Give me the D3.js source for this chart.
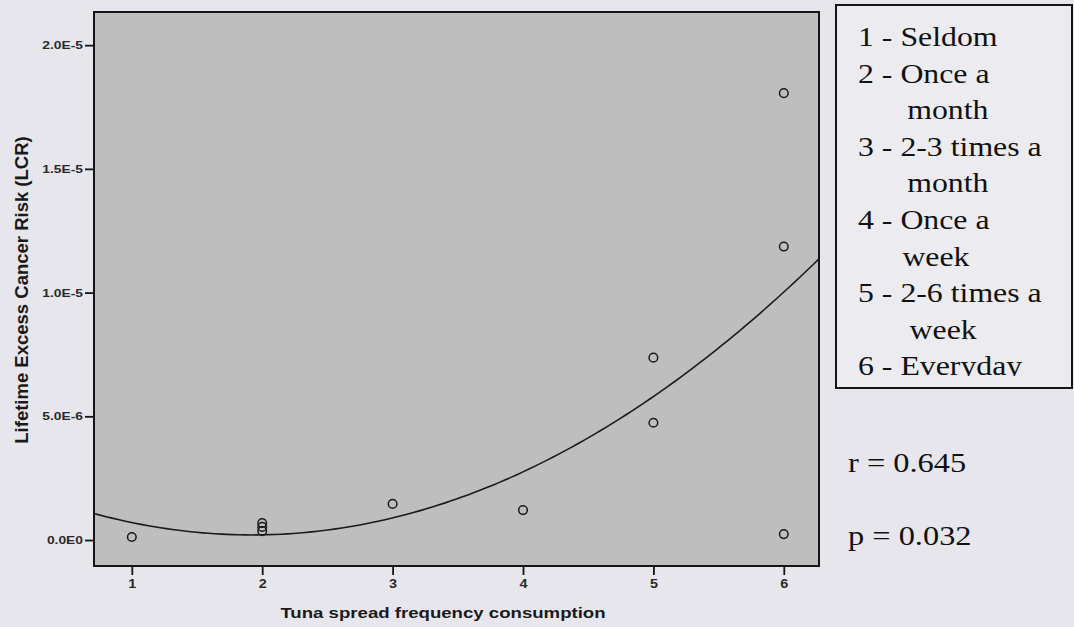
<!DOCTYPE html>
<html>
<head>
<meta charset="utf-8">
<script src="https://cdn.jsdelivr.net/npm/d3@7"></script>
<style>
  body { margin: 0; background: #e6e6ec; }
  svg { display: block; }
  .serif { font-family: "Liberation Serif", "Times New Roman", Times, serif; }
  .sans { font-family: "Liberation Sans", Arial, Helvetica, sans-serif; }
</style>
</head>
<body>
<div id="chart"></div>
<script>
// Set variables
const FRAME_WIDTH = 1074;
const FRAME_HEIGHT = 627;
const PLOT = {left: 94, right: 819, top: 12, bottom: 566};
const STRETCH = 1.2; // the source picture is stretched sideways

// Data
const freqCodes = [1, 2, 3, 4, 5, 6];
const pointFreq = [1, 2, 2, 2, 3, 4, 5, 5, 6, 6, 6];
const pointLCR = [1.2e-7, 6.9e-7, 5.3e-7, 3.6e-7, 1.46e-6, 1.21e-6,
                  7.37e-6, 4.74e-6, 1.806e-5, 1.186e-5, 2.4e-7];
const yTicks = [0, 5e-6, 1e-5, 1.5e-5, 2e-5];
const yTickLabels = ["0.0E0", "5.0E-6", "1.0E-5", "1.5E-5", "2.0E-5"];
const legendLines = ["1 - Seldom", "2 - Once a", "month", "3 - 2-3 times a", "month",
                     "4 - Once a", "week", "5 - 2-6 times a", "week", "6 - Everyday"];
const legendIndent = [0, 0, 41, 0, 41, 0, 37, 0, 43, 0];
const statLines = ["r = 0.645", "p = 0.032"];

const X_TITLE = "Tuna spread frequency consumption";
const Y_TITLE = "Lifetime Excess Cancer Risk (LCR)";

const svg = d3.select("#chart")
              .append("svg")
                .attr("width", FRAME_WIDTH)
                .attr("height", FRAME_HEIGHT);

svg.append("rect")
    .attr("width", FRAME_WIDTH)
    .attr("height", FRAME_HEIGHT)
    .attr("fill", "#e6e6ec");

const X_SCALE = d3.scaleLinear()
                  .domain([0.71, 6.27])
                  .range([PLOT.left, PLOT.right]);

const Y_SCALE = d3.scaleLinear()
                  .domain([-1.05e-6, 21.34e-6])
                  .range([PLOT.bottom, PLOT.top]);

// widen text like the stretched source
function stretch(sel, k) {
  sel.each(function() {
    const w = this.getComputedTextLength();
    d3.select(this).attr("textLength", w * k).attr("lengthAdjust", "spacingAndGlyphs");
  });
}

// plot background
svg.append("rect")
    .attr("x", PLOT.left)
    .attr("y", PLOT.top)
    .attr("width", PLOT.right - PLOT.left)
    .attr("height", PLOT.bottom - PLOT.top)
    .attr("fill", "#bebebe");

// quadratic least squares fit (the SPSS fit line)
function quadFit(xs, ys) {
  const n = xs.length;
  let s = [0, 0, 0, 0, 0], t = [0, 0, 0];
  for (let i = 0; i < n; i++) {
    for (let k = 0; k < 5; k++) s[k] += Math.pow(xs[i], k);
    for (let k = 0; k < 3; k++) t[k] += ys[i] * Math.pow(xs[i], k);
  }
  const M = [[s[0], s[1], s[2], t[0]], [s[1], s[2], s[3], t[1]], [s[2], s[3], s[4], t[2]]];
  for (let c = 0; c < 3; c++) {
    for (let r = c + 1; r < 3; r++) {
      const f = M[r][c] / M[c][c];
      for (let j = c; j < 4; j++) M[r][j] -= f * M[c][j];
    }
  }
  const b = [0, 0, 0];
  for (let r = 2; r >= 0; r--) {
    let v = M[r][3];
    for (let j = r + 1; j < 3; j++) v -= M[r][j] * b[j];
    b[r] = v / M[r][r];
  }
  return b;
}

const coef = quadFit(pointFreq, pointLCR);
const xDom = X_SCALE.domain();
const curveX = d3.range(xDom[0], xDom[1] + 0.001, (xDom[1] - xDom[0]) / 120);

svg.append("path")
    .datum(curveX)
    .attr("fill", "none")
    .attr("stroke", "#1a1a1a")
    .attr("stroke-width", 1.6)
    .attr("d", d3.line()
        .x((d) => X_SCALE(d))
        .y((d) => Y_SCALE(coef[0] + coef[1] * d + coef[2] * d * d)));

// Add points
svg.selectAll(".point")
    .data(pointFreq)
    .enter()
    .append("circle")
      .attr("class", "point")
      .attr("cx", (d) => X_SCALE(d))
      .attr("cy", (d, i) => Y_SCALE(pointLCR[i]))
      .attr("r", 4.3)
      .attr("fill", "none")
      .attr("stroke", "#1a1a1a")
      .attr("stroke-width", 1.5);

// frame
svg.append("rect")
    .attr("x", PLOT.left)
    .attr("y", PLOT.top)
    .attr("width", PLOT.right - PLOT.left)
    .attr("height", PLOT.bottom - PLOT.top)
    .attr("fill", "none")
    .attr("stroke", "#151515")
    .attr("stroke-width", 2);

// Add a y-axis
const yAxis = svg.append("g")
    .attr("transform", "translate(" + PLOT.left + ",0)")
    .call(d3.axisLeft(Y_SCALE)
            .tickValues(yTicks)
            .tickFormat((d, i) => yTickLabels[i])
            .tickSize(9)
            .tickPadding(2));
yAxis.select(".domain").remove();
yAxis.selectAll("line").attr("stroke", "#151515").attr("stroke-width", 1.8);
yAxis.selectAll("text")
    .attr("class", "sans")
    .attr("font-size", "11.5px")
    .attr("font-weight", "bold")
    .attr("fill", "#2a2a2a")
    .call(stretch, STRETCH);

// Add an x-axis
const xAxis = svg.append("g")
    .attr("transform", "translate(0," + PLOT.bottom + ")")
    .call(d3.axisBottom(X_SCALE)
            .tickValues(freqCodes)
            .tickFormat(d3.format("d"))
            .tickSize(9)
            .tickPadding(4));
xAxis.select(".domain").remove();
xAxis.selectAll("line").attr("stroke", "#151515").attr("stroke-width", 1.8);
xAxis.selectAll("text")
    .attr("class", "sans")
    .attr("font-size", "12px")
    .attr("font-weight", "bold")
    .attr("fill", "#2a2a2a")
    .call(stretch, STRETCH);

// axis titles
svg.append("text")
    .attr("class", "sans")
    .attr("x", 443)
    .attr("y", 618)
    .attr("text-anchor", "middle")
    .attr("font-size", "15.5px")
    .attr("font-weight", "bold")
    .attr("fill", "#1a1a1a")
    .text(X_TITLE)
    .call(stretch, STRETCH);

svg.append("text")
    .attr("class", "sans")
    .attr("transform", "translate(28,290) rotate(-90)")
    .attr("text-anchor", "middle")
    .attr("font-size", "18.5px")
    .attr("font-weight", "bold")
    .attr("fill", "#1a1a1a")
    .text(Y_TITLE);

// legend box
svg.append("rect")
    .attr("x", 836)
    .attr("y", 5)
    .attr("width", 236)
    .attr("height", 383)
    .attr("fill", "#ebebf0")
    .attr("stroke", "#151515")
    .attr("stroke-width", 2);

svg.append("clipPath")
    .attr("id", "legend-clip")
  .append("rect")
    .attr("x", 836)
    .attr("y", 5)
    .attr("width", 236)
    .attr("height", 371);

const legend = svg.append("g")
    .attr("clip-path", "url(#legend-clip)")
  .append("g")
    .attr("transform", "translate(858,0) scale(" + STRETCH + ",1)");

legend.selectAll("text")
    .data(legendLines)
    .enter()
    .append("text")
      .attr("class", "serif")
      .attr("x", (d, i) => legendIndent[i])
      .attr("y", (d, i) => 46 + i * 36.6)
      .attr("font-size", "26.5px")
      .attr("fill", "#111")
      .text((d) => d);

// r and p
svg.selectAll(".stat")
    .data(statLines)
    .enter()
    .append("text")
      .attr("class", "serif")
      .attr("transform", (d, i) => "translate(848," + (472 + i * 73) + ") scale(" + STRETCH + ",1)")
      .attr("font-size", "27px")
      .attr("fill", "#111")
      .text((d) => d);
</script>
</body>
</html>
